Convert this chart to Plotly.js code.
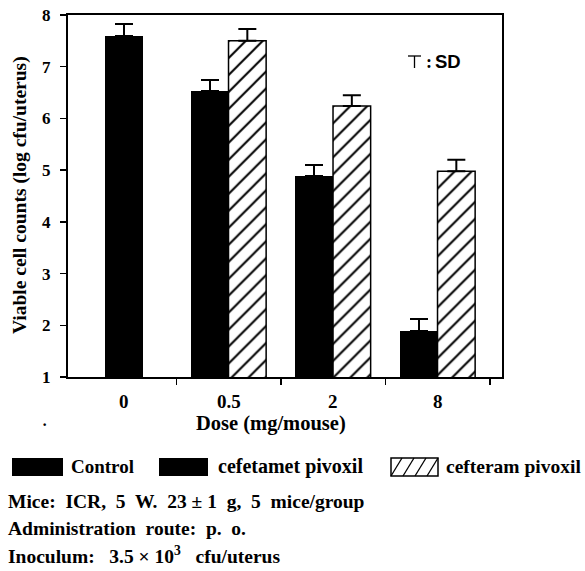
<!DOCTYPE html>
<html>
<head>
<meta charset="utf-8">
<script src="https://cdn.plot.ly/plotly-3.0.1.min.js"></script>
<style>html,body{margin:0;padding:0;background:#fff;}#chart{width:585px;height:571px;}</style>
</head>
<body>
<div id="chart"></div>
<script>
// ---- data ----
const doses = ['0', '0.5', '2', '8'];
const controlDoses = ['0'];
const controlValues = [7.60];
const controlSD = [0.23];
const treatedDoses = ['0.5', '2', '8'];
const cefetametValues = [6.53, 4.88, 1.89];
const cefetametSD = [0.21, 0.21, 0.23];
const cefteramValues = [7.50, 6.24, 4.98];
const cefteramSD = [0.23, 0.21, 0.22];
const yTicks = [1, 2, 3, 4, 5, 6, 7, 8];

// ---- layout helpers ----
const W = 585, H = 571;
const M = {l: 68, r: 83, t: 15, b: 194};
const PW = W - M.l - M.r, PH = H - M.t - M.b;
const px = x => (x - M.l) / PW;
const py = y => (H - M.b - y) / PH;
const idx = d => doses.indexOf(d);
const zeros = a => a.map(() => 0);

const FONT = 'Liberation Serif, Times New Roman, serif';
const barW = 0.36;

const errStyle = {width: 9, thickness: 2, color: '#000'};

const traces = [
  {
    type: 'bar', name: 'Control',
    x: controlDoses.map(idx), y: controlValues,
    width: barW, offset: -barW / 2,
    marker: {color: '#000', line: {width: 0}},
    error_y: Object.assign({type: 'data', symmetric: false, array: controlSD, arrayminus: zeros(controlSD)}, errStyle),
    showlegend: false
  },
  {
    type: 'bar', name: 'cefetamet pivoxil',
    x: treatedDoses.map(idx), y: cefetametValues,
    width: barW, offset: -barW,
    marker: {color: '#000', line: {width: 0}},
    error_y: Object.assign({type: 'data', symmetric: false, array: cefetametSD, arrayminus: zeros(cefetametSD)}, errStyle),
    showlegend: false
  },
  {
    type: 'bar', name: 'cefteram pivoxil',
    x: treatedDoses.map(idx), y: cefteramValues,
    width: barW, offset: 0,
    marker: {color: '#fff', line: {width: 1.5, color: '#000'},
             pattern: {shape: '/', fgcolor: '#000', bgcolor: '#fff', size: 12, solidity: 0.17}},
    error_y: Object.assign({type: 'data', symmetric: false, array: cefteramSD, arrayminus: zeros(cefteramSD)}, errStyle),
    showlegend: false
  }
];

// ---- legend swatches and SD key (layout decoration) ----
const pline = (x0, y0, x1, y1, w) => ({type: 'line', xref: 'paper', yref: 'paper',
  x0: px(x0), y0: py(y0), x1: px(x1), y1: py(y1), line: {width: w, color: '#000'}});
const shapes = [
  {type: 'rect', xref: 'paper', yref: 'paper', x0: px(12), x1: px(63), y0: py(476), y1: py(458),
   fillcolor: '#000', line: {width: 0}},
  {type: 'rect', xref: 'paper', yref: 'paper', x0: px(159), x1: px(208), y0: py(476), y1: py(458),
   fillcolor: '#000', line: {width: 0}},
  {type: 'rect', xref: 'paper', yref: 'paper', x0: px(391), x1: px(438), y0: py(476), y1: py(458),
   fillcolor: '#fff', line: {width: 1.5, color: '#000'}},
  // SD key glyph
  pline(408, 56, 421, 56, 1.3),
  pline(414.5, 56, 414.5, 68, 1.3)
];
[391, 403, 415, 427].forEach(x0 => shapes.push(pline(x0, 476, Math.min(x0 + 11, 438), 458, 1.3)));

const BOLD = (size) => ({family: FONT, size: size, color: '#000', weight: 'bold'});
const txt = (x, y, text, size, opts) => Object.assign({
  xref: 'paper', yref: 'paper', x: px(x), y: py(y), text: text, showarrow: false,
  xanchor: 'left', yanchor: 'middle', font: BOLD(size)
}, opts || {});

const annotations = [
  // x category labels, placed at the category positions
  ...doses.map((d, i) => ({xref: 'x', yref: 'paper', x: i, y: py(401), text: d, showarrow: false,
    xanchor: 'center', yanchor: 'middle', font: BOLD(19)})),
  txt(271, 423, 'Dose (mg/mouse)', 20.5, {xanchor: 'center'}),
  txt(20, 195, 'Viable cell counts (log cfu/uterus)', 19.5, {xanchor: 'center', textangle: -90}),
  txt(424, 62, ':', 18),
  txt(433, 62, 'SD', 18.5, {font: {family: 'Liberation Sans, Arial, sans-serif', size: 18.5, color: '#000', weight: 'bold'}}),
  txt(40, 424, '·', 16),
  txt(69, 467, 'Control', 19),
  txt(216, 467, 'cefetamet pivoxil', 20),
  txt(444, 467, 'cefteram pivoxil', 19.5),
  txt(6, 501, 'Mice:  ICR,  5  W.  23 ± 1  g,  5  mice/group', 19.5),
  txt(6, 528, 'Administration  route:  p.  o.', 19.5),
  txt(6, 555, 'Inoculum:   3.5 × 10<sup>3</sup>   cfu/uterus', 19.5)
];

const layout = {
  width: W, height: H,
  margin: M,
  paper_bgcolor: '#fff', plot_bgcolor: '#fff',
  font: {family: FONT, color: '#000'},
  bargap: 0,
  showlegend: false,
  xaxis: {
    range: [-0.536, 3.617], tickvals: doses.map((d, i) => i + 0.5), showticklabels: false,
    ticks: 'outside', ticklen: 6, tickwidth: 1.5, tickcolor: '#000',
    showgrid: false, zeroline: false,
    showline: true, linewidth: 2, linecolor: '#000', mirror: true
  },
  yaxis: {
    range: [1, 8], tickvals: yTicks,
    ticks: 'outside', ticklen: 6, tickwidth: 1.5, tickcolor: '#000',
    showgrid: false, zeroline: false,
    showline: true, linewidth: 2, linecolor: '#000', mirror: true,
    tickfont: BOLD(17),
    ticklabelstandoff: 6
  },
  shapes: shapes,
  annotations: annotations
};

Plotly.newPlot('chart', traces, layout, {displayModeBar: false, staticPlot: true});
</script>
</body>
</html>
